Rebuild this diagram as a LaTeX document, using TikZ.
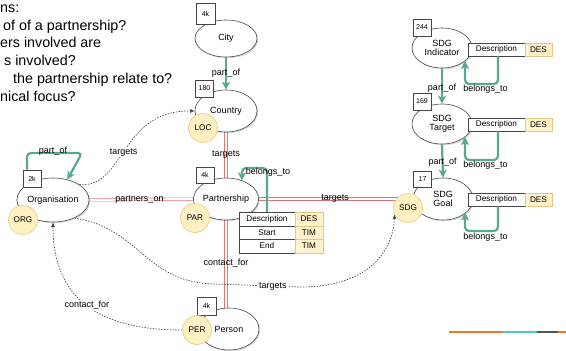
\documentclass[tikz,border=0pt]{standalone}
\usepackage{fontspec}
\setmainfont{Liberation Sans}
\usetikzlibrary{shapes.geometric,arrows.meta,shadows,calc}
\pgfdeclarelayer{bg}
\pgfsetlayers{bg,main}
\definecolor{tealc}{RGB}{88,168,148}
\definecolor{tagfill}{RGB}{253,240,194}
\definecolor{tagdraw}{RGB}{232,204,132}
\definecolor{desfill}{RGB}{255,242,204}
\definecolor{desdraw}{RGB}{226,200,130}
\definecolor{redc}{RGB}{220,120,120}
\definecolor{edge}{RGB}{70,70,70}
\definecolor{stripeor}{RGB}{240,120,40}
\definecolor{stripeteal}{RGB}{70,200,195}
\definecolor{stripegray}{RGB}{85,85,85}
\begin{document}
\begin{tikzpicture}[x=1pt,y=-1pt,
 ent/.style={ellipse, draw=edge, line width=0.6pt, fill=white, minimum width=62pt, minimum height=42pt, inner sep=0pt, align=center, font=\fontsize{9}{9.5}\selectfont, drop shadow={shadow xshift=1.2pt, shadow yshift=-1.2pt, opacity=0.3}},
 cnt/.style={draw=edge, line width=0.6pt, fill=white, minimum width=18pt, minimum height=17pt, inner sep=0pt, font=\fontsize{7}{8}\selectfont},
 tag/.style={circle, draw=tagdraw, line width=0.6pt, fill=tagfill, minimum size=29pt, inner sep=0pt, font=\fontsize{8.2}{9}\selectfont},
 cell/.style={draw=edge, line width=0.5pt, fill=white, minimum width=56pt, minimum height=13.5pt, inner sep=0pt, font=\fontsize{8.2}{9}\selectfont},
 dcell/.style={draw=desdraw, line width=0.5pt, fill=desfill, minimum width=28pt, minimum height=13.5pt, inner sep=0pt, font=\fontsize{8.2}{9}\selectfont},
 tarrow/.style={draw=tealc, line width=2.2pt, rounded corners=4pt, -{Stealth[length=8pt,width=8pt,inset=2pt]}},
 redl/.style={draw=redc, line width=0.6pt, double=white, double distance=2.2pt},
 dotl/.style={draw=edge, line width=0.7pt, dash pattern=on 1.4pt off 1.4pt, -{Latex[length=4.5pt,width=4pt]}},
 lbl/.style={font=\fontsize{9}{10}\selectfont, inner sep=1pt},
 lblw/.style={lbl, fill=white},
 qtext/.style={font=\fontsize{14.3}{17.7}\selectfont, anchor=base west, inner sep=0pt},
]
\useasboundingbox (0,0) rectangle (566,351);

% question text
\node[qtext] (q1) at (0,12.5) {ns:};
\node[qtext] (q2) at (3,30.2) {of of a partnership?};
\node[qtext] (q3) at (0,47.9) {ers involved are};
\node[qtext] (q4) at (4,65.6) {s involved?};
\node[qtext] (q5) at (13,83.3) {the partnership relate to?};
\node[qtext] (q6) at (0,101) {nical focus?};

% entities
\node[ent, minimum height=37pt] (city) at (226,38.5) {City};
\node[ent] (country) at (226,111) {Country};
\node[ent] (part) at (226,199) {Partnership};
\node[ent, minimum width=60pt] (person) at (229,329) {Person};
\node[ent, minimum width=60pt, minimum height=44pt] (org) at (53,200) {Organisation};
\node[ent, minimum width=60pt, minimum height=40pt] (ind) at (442,48) {SDG\\Indicator};
\node[ent, minimum width=60pt, minimum height=40pt] (tar) at (442,124) {SDG\\Target};
\node[ent, minimum width=60pt] (goal) at (443,199) {SDG\\Goal};

% counts
\node[cnt, minimum width=19pt, minimum height=21pt] (cityc) at (205.5,13.5) {4k};
\node[cnt] (countryc) at (204.5,88.5) {180};
\node[cnt, minimum height=16pt] (partc) at (205,175) {4k};
\node[cnt, minimum width=19pt, minimum height=18pt] (personc) at (206.5,306) {4k};
\node[cnt] (orgc) at (32,178.5) {2k};
\node[cnt] (indc) at (422,27.5) {244};
\node[cnt] (tarc) at (422,101.5) {169};
\node[cnt, minimum height=16pt] (goalc) at (422.5,179.5) {17};

% tags
\node[tag] (loc) at (203,128) {LOC};
\node[tag] (par) at (195,218) {PAR};
\node[tag] (orgt) at (23,220) {ORG};
\node[tag] (per) at (197,330) {PER};
\node[tag] (sdg) at (408,208) {SDG};

% tables
\node[cell] (pdesc) at (267,219) {Description};
\node[dcell] (pdes) at (309,219) {DES};
\node[cell] (pstart) at (267,232.5) {Start};
\node[dcell] (ptim1) at (309,232.5) {TIM};
\node[cell] (pend) at (267,246) {End};
\node[dcell] (ptim2) at (309,246) {TIM};

\node[cell, minimum width=57pt, minimum height=13pt] (idesc) at (496.5,49.5) {Description};
\node[dcell, minimum width=27pt, minimum height=13pt] (ides) at (538.5,49.5) {DES};
\node[cell, minimum width=57pt, minimum height=13pt] (tdesc) at (496.5,124.5) {Description};
\node[dcell, minimum width=27pt, minimum height=13pt] (tdes) at (538.5,124.5) {DES};
\node[cell, minimum width=57pt, minimum height=13pt] (gdesc) at (496.5,199.5) {Description};
\node[dcell, minimum width=27pt, minimum height=13pt] (gdes) at (538.5,199.5) {DES};

% background connectors
\begin{pgfonlayer}{bg}
\draw[redl] (country.center) -- node[lbl] {targets} (part.center);
\draw[redl] (part.center) -- node[lbl, pos=0.59] {contact\_for} (part.center |- person.north);
\draw[redl] (org.center) -- node[lbl] {partners\_on} (part.center);
\draw[redl] (part.center) -- node[lbl, pos=0.6] {targets} (part.center -| sdg.center);

\draw[dotl] (org.30) .. controls (125,188) and (120,110) .. node[lblw, pos=0.47] {targets} (country.west);
\draw[dotl] (org.-40) .. controls (140,228) and (145,283) .. (215,284)
   -- node[lblw, pos=0.68] {targets} (300,287)
   .. controls (370,287) and (393,250) .. (sdg.205);
\draw[dotl] (per.west) .. controls (100,330) and (53,300) .. node[lblw, pos=0.5] {contact\_for} (org.south);
\end{pgfonlayer}

% teal relations
\draw[tarrow] (city.south) -- node[lbl] {part\_of} (country.north);
\coordinate (orgloop) at (82,153);
\draw[tarrow] ([xshift=-5pt]orgc.north) |- (orgloop) -- (org.55);
\node[lbl] (orgloopl) at (53,151) {part\_of};

\coordinate (pbtc) at (242,168);
\coordinate (pbte) at (242,180.5);
\draw[tarrow] (pdesc.north) |- (pbtc) -- (pbte);
\node[lbl] (pbtl) at (268,172) {belongs\_to};

\draw[tarrow] (ind.south) -- node[lbl, pos=0.55] {part\_of} (tar.north);
\draw[tarrow] (tar.south) -- node[lbl, pos=0.55] {part\_of} (goal.north);

\coordinate (ibtc) at (465,84);
\coordinate (ibte) at (465,61);
\draw[tarrow] ([xshift=1.5pt]idesc.south) |- (ibtc) -- (ibte);
\node[lbl] (ibtl) at (485.5,89) {belongs\_to};

\coordinate (tbtc) at (465,160);
\coordinate (tbte) at (465,137);
\draw[tarrow] ([xshift=1.5pt]tdesc.south) |- (tbtc) -- (tbte);
\node[lbl] (tbtl) at (485.5,165) {belongs\_to};

\coordinate (gbtc) at (465,231);
\coordinate (gbte) at (465,212.5);
\draw[tarrow] ([xshift=1.5pt]gdesc.south) |- (gbtc) -- (gbte);
\node[lbl] (gbtl) at (485.5,237) {belongs\_to};

% decorative stripe
\draw[stripeor, line width=2.5pt] (449,332) -- (503,332);
\draw[stripeteal, line width=2.5pt] (503,332) -- (537,332);
\draw[stripegray, line width=2.5pt] (537,332) -- (558,332);
\draw[stripeor, line width=2.5pt] (558,332) -- (566,332);
\end{tikzpicture}
\end{document}
